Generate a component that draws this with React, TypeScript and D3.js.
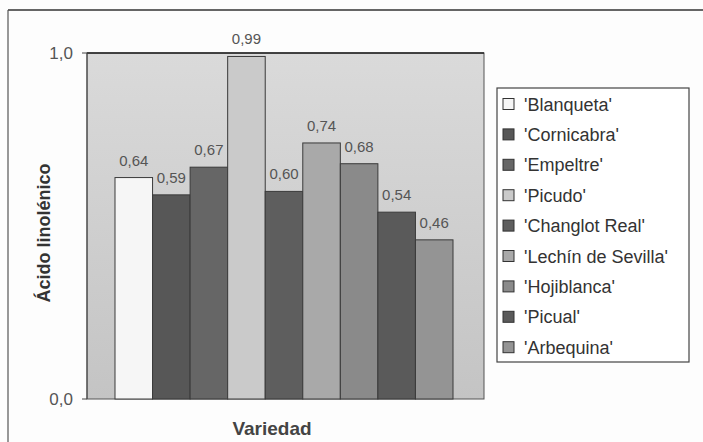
import React from "react";
import * as d3 from "d3";

const varieties = [
  "'Blanqueta'",
  "'Cornicabra'",
  "'Empeltre'",
  "'Picudo'",
  "'Changlot Real'",
  "'Lechín de Sevilla'",
  "'Hojiblanca'",
  "'Picual'",
  "'Arbequina'",
];
const values = [0.64, 0.59, 0.67, 0.99, 0.6, 0.74, 0.68, 0.54, 0.46];
const colors = ["#f6f6f6", "#575757", "#666666", "#cacaca", "#5e5e5e", "#a9a9a9", "#8a8a8a", "#5a5a5a", "#949494"];
const yTicks = [0, 1];

const W = 703;
const H = 442;
const plot = { left: 87, right: 484, top: 53, bottom: 399 };

export default function App() {
  const x = d3.scaleBand<string>().domain(varieties).range([115, 453]).padding(0);
  const y = d3.scaleLinear().domain([0, 1]).range([plot.bottom, plot.top]);
  const fmt = (v: number) => d3.format(".2f")(v).replace(".", ",");
  const fmt1 = (v: number) => d3.format(".1f")(v).replace(".", ",");
  const font = "Arial, 'Liberation Sans', sans-serif";
  return (
    <svg width={W} height={H} style={{ position: "absolute", left: 0, top: 0, background: "#fff" }}>
      <defs>
        <linearGradient id="bg" x1="0" y1="0" x2="0" y2="1">
          <stop offset="0" stopColor="#dadada" />
          <stop offset="1" stopColor="#c4c4c4" />
        </linearGradient>
      </defs>
      <rect x={0} y={0} width={W} height={H} fill="#fdfdfd" />
      {/* outer frame */}
      <line x1={8} y1={10} x2={W} y2={10} stroke="#333" strokeWidth={1.5} />
      <line x1={8} y1={10} x2={8} y2={H} stroke="#555" strokeWidth={1.2} />
      {/* plot area */}
      <rect x={plot.left} y={plot.top} width={plot.right - plot.left} height={plot.bottom - plot.top} fill="url(#bg)" stroke="#555" strokeWidth={1} />
      <line x1={plot.left} y1={plot.top} x2={plot.right} y2={plot.top} stroke="#222" strokeWidth={1.5} />
      {/* bars */}
      {varieties.map((v, i) => (
        <rect
          key={v}
          x={x(v)}
          y={y(values[i])}
          width={x.bandwidth()}
          height={plot.bottom - y(values[i])}
          fill={colors[i]}
          stroke="#3a3a3a"
          strokeWidth={1}
        />
      ))}
      {/* data labels */}
      {varieties.map((v, i) => (
        <text
          key={"l" + v}
          x={(x(v) as number) + x.bandwidth() / 2}
          y={y(values[i]) - 12}
          textAnchor="middle"
          fontFamily={font}
          fontSize={15}
          fill="#555"
        >
          {fmt(values[i])}
        </text>
      ))}
      {/* y axis */}
      <line x1={plot.left} y1={plot.top} x2={plot.left} y2={plot.bottom} stroke="#444" />
      {yTicks.map((t) => (
        <g key={t}>
          <line x1={plot.left - 5} x2={plot.left} y1={y(t)} y2={y(t)} stroke="#444" />
          <text x={plot.left - 14} y={y(t) + 6} textAnchor="end" fontFamily={font} fontSize={17} fill="#555">
            {fmt1(t)}
          </text>
        </g>
      ))}
      <text
        transform={`translate(50,233) rotate(-90)`}
        textAnchor="middle"
        fontFamily={font}
        fontSize={18}
        fontWeight="bold"
        fill="#333"
      >
        Ácido linolénico
      </text>
      <text x={272} y={435} textAnchor="middle" fontFamily={font} fontSize={19} fontWeight="bold" fill="#444">
        Variedad
      </text>
      {/* legend */}
      <rect x={497} y={88} width={192} height={274} fill="#fff" stroke="#444" strokeWidth={1.2} />
      {varieties.map((v, i) => {
        const cy = 104 + i * 30.4;
        return (
          <g key={"lg" + v}>
            <rect x={503} y={cy - 5.5} width={11} height={11} fill={colors[i]} stroke="#333" strokeWidth={1} />
            <text x={524} y={cy + 6.5} fontFamily={font} fontSize={18} fill="#333">
              {v}
            </text>
          </g>
        );
      })}
    </svg>
  );
}
